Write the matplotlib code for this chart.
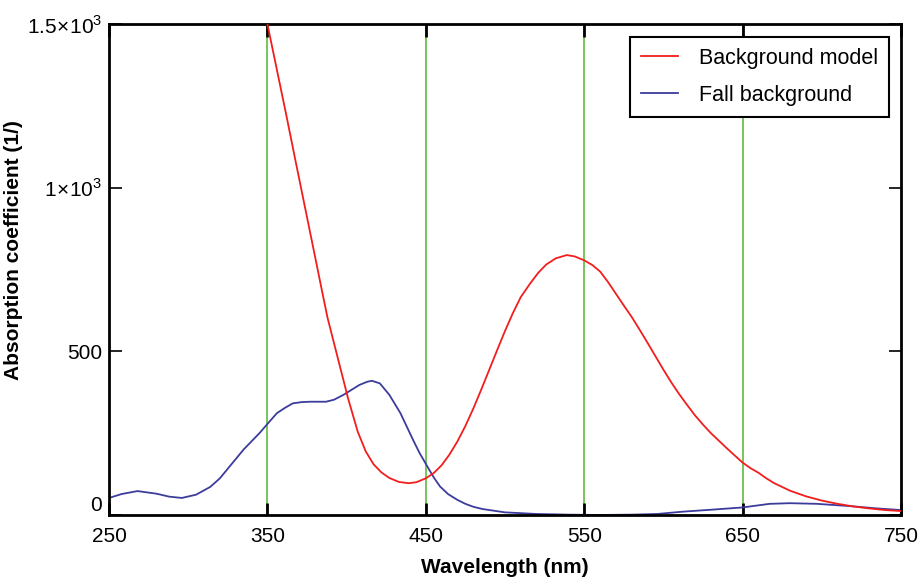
import numpy as np
import matplotlib
matplotlib.use("Agg")
from matplotlib import pyplot as plt

plt.rcParams['font.family'] = ['Liberation Sans', 'DejaVu Sans']
plt.rcParams['mathtext.fontset'] = 'custom'
plt.rcParams['mathtext.rm'] = 'Liberation Sans'

# background model absorption vs wavelength (nm)
model_wl = [350, 356, 362, 367, 371, 375, 379, 383, 385, 388, 391, 396, 401,
            407, 412, 417, 422, 427, 433, 439, 444, 450, 455, 460, 465, 470,
            475, 480, 485, 490, 495, 500, 505, 510, 516, 521, 526, 532, 539,
            544, 550, 555, 560, 565, 570, 575, 580, 585, 590, 595, 600, 605,
            610, 615, 620, 625, 630, 635, 640, 645, 650, 655, 660, 665, 670,
            680, 690, 700, 710, 720, 730, 740, 750]
model_abs = [1500, 1360, 1220, 1100, 1005, 910, 815, 720, 672, 602, 545, 450,
             355, 255, 195, 155, 130, 113, 101, 97, 100, 112, 128, 152, 185,
             225, 272, 325, 383, 443, 503, 562, 617, 666, 708, 740, 765, 784,
             794, 790, 778, 764, 744, 712, 676, 640, 605, 566, 526, 485, 444,
             405, 369, 336, 304, 276, 250, 227, 204, 182, 160, 143, 129, 112,
             97, 74, 57, 44, 34, 26, 20, 15, 12]

# measured fall background
fall_wl = [250, 258, 268, 280, 288, 296, 305, 314, 320, 328, 335, 340, 345,
           350, 356, 361, 366, 372, 377, 382, 387, 392, 398, 403, 408, 413,
           416, 421, 427, 434, 438, 442, 446, 451, 455, 459, 464, 470, 475,
           480, 486, 493, 500, 520, 540, 560, 580, 596, 612, 630, 650, 667,
           680, 697, 718, 735, 750]
fall_abs = [52, 64, 73, 65, 56, 52, 62, 86, 112, 159, 200, 225, 250, 278,
            311, 327, 341, 345, 346, 346, 346, 352, 367, 382, 397, 407, 410,
            402, 367, 311, 270, 229, 190, 148, 115, 87, 64, 46, 34, 25, 18,
            13, 8, 3, 1, 0, 1, 3, 10, 16, 23, 34, 36, 34, 27, 20, 15]

band_edges = [350, 450, 550, 650]

fig = plt.figure(figsize=(9.19, 5.77), dpi=100)
ax = fig.add_axes([0.1186, 0.1075, 0.8618, 0.8509])

for wl in band_edges:
    ax.axvline(wl, color='#6cbf4c', lw=1.3, zorder=1)

ax.plot(model_wl, model_abs, color='#f21d1d', lw=1.3, label='Background model', zorder=3)
ax.plot(fall_wl, fall_abs, color='#3c3c9c', lw=1.3, label='Fall background', zorder=2)

ax.set_xlim(250, 750)
ax.set_ylim(0, 1500)
ax.set_xticks([250, 350, 450, 550, 650, 750])
ax.set_yticks([0, 500, 1000, 1500])
ax.set_yticklabels(['0', '500', r'$1\!\times\!10^3$', r'$1.5\!\times\!10^3$'])
ax.tick_params(direction='in', labelsize=15, top=True, right=True, color='black')
ax.tick_params(axis='x', length=9, width=2, pad=9)
ax.tick_params(axis='y', length=9, width=1.2, pad=5)
ax.get_yticklabels()[0].set_va('bottom')

for sp in ax.spines.values():
    sp.set_linewidth(2)

ax.set_xlabel('Wavelength (nm)', fontsize=15, fontweight='bold', labelpad=8)
ax.set_ylabel('Absorption coefficient (1/)', fontsize=15, fontweight='bold')
ax.yaxis.set_label_coords(-0.108, 0.54)

leg = ax.legend(loc='upper right', bbox_to_anchor=(0.985, 0.9735), fontsize=15.5,
                fancybox=False, framealpha=1, edgecolor='black',
                handlelength=1.7, handletextpad=1.0, borderpad=0.5,
                labelspacing=0.75, borderaxespad=0)
leg.get_frame().set_linewidth(1.5)

fig.savefig('out.png', dpi=100)
